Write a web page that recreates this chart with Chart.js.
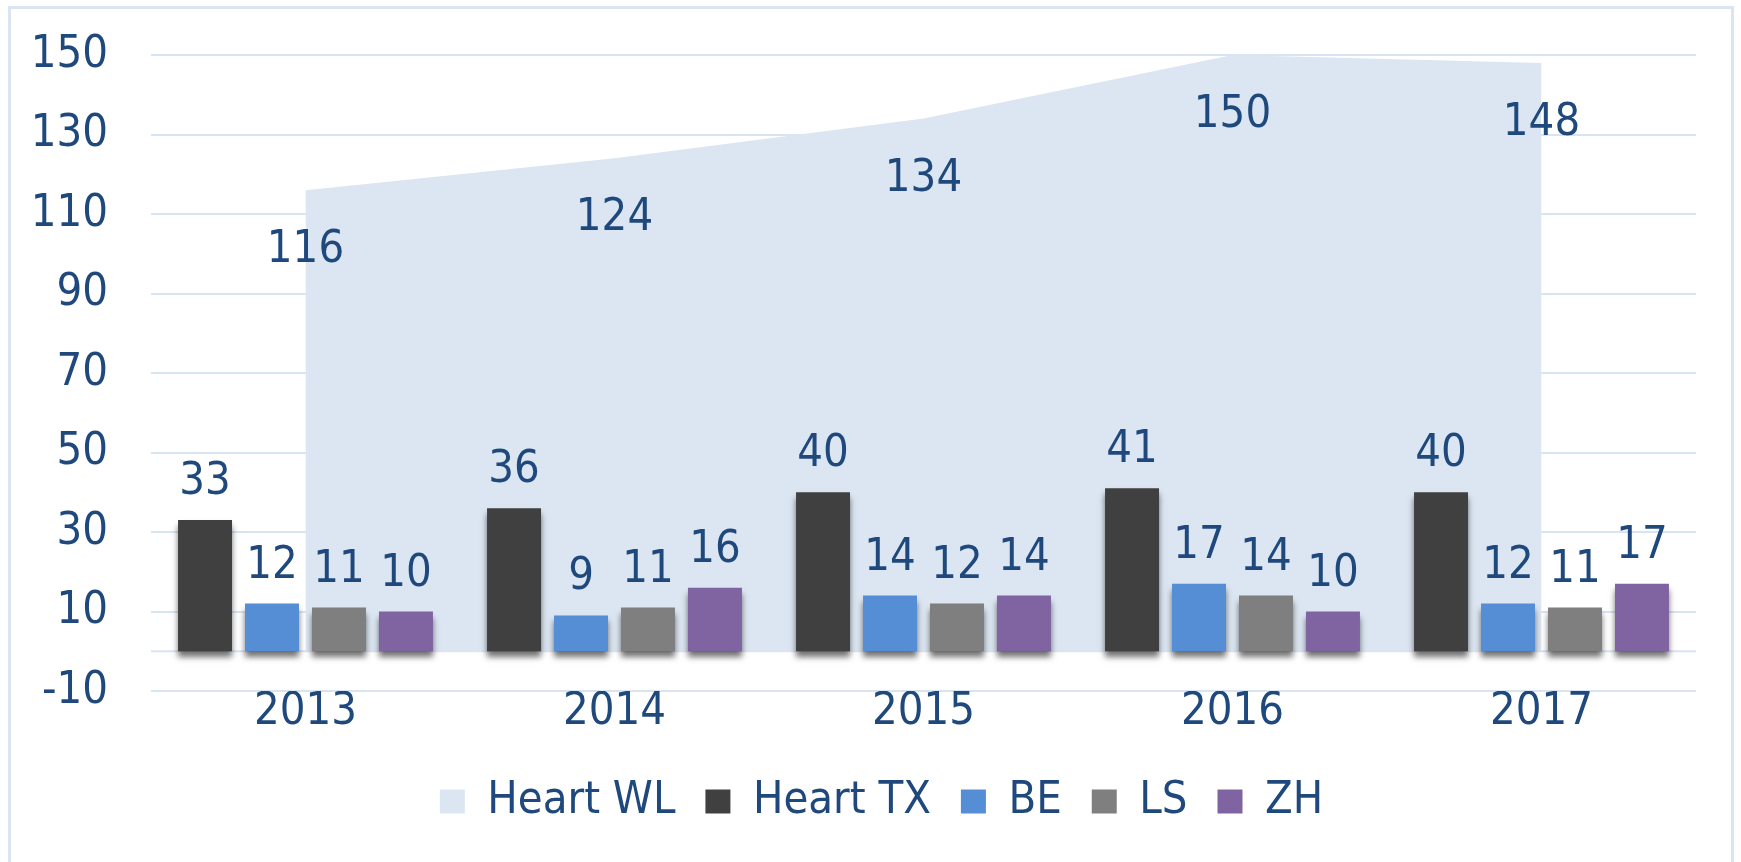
<!DOCTYPE html>
<html>
<head>
<meta charset="utf-8">
<script src="https://cdn.jsdelivr.net/npm/chart.js@4.4.1/dist/chart.umd.min.js"></script>
<style>
  html, body { margin: 0; padding: 0; background: #ffffff; overflow: hidden; }
  #wrap { position: relative; width: 1741px; height: 862px; }
  #frame { position: absolute; left: 8px; top: 6px; width: 1726px; height: 900px; border: 3px solid #dbe5f2; box-sizing: border-box; pointer-events: none; }
  canvas { position: absolute; left: 0; top: 0; }
</style>
</head>
<body>
<div id="wrap">
  <canvas id="c" width="1741" height="862"></canvas>
  <div id="frame"></div>
</div>
<script>
const categories = ['2013', '2014', '2015', '2016', '2017'];
const heartWL = [116, 124, 134, 150, 148];
const heartTX = [33, 36, 40, 41, 40];
const be = [12, 9, 14, 17, 12];
const ls = [11, 11, 12, 14, 11];
const zh = [10, 16, 14, 10, 17];
const yTicks = [-10, 10, 30, 50, 70, 90, 110, 130, 150];

const FONT = "'DejaVu Sans Condensed', 'DejaVu Sans', sans-serif";
const TXT = '#1f497d';
const GRID = '#d9e4f3';

const shadowPlugin = {
  id: 'shadows',
  beforeDatasetDraw(chart, args) {
    const ctx = chart.ctx;
    ctx.save();
    if (args.meta.type === 'line') {
      ctx.shadowColor = 'rgba(0,0,0,0.28)';
      ctx.shadowBlur = 6;
      ctx.shadowOffsetX = 3;
      ctx.shadowOffsetY = 3;
    } else {
      ctx.shadowColor = 'rgba(0,0,0,0.55)';
      ctx.shadowBlur = 6;
      ctx.shadowOffsetX = 0;
      ctx.shadowOffsetY = 6;
    }
  },
  afterDatasetDraw(chart) {
    chart.ctx.restore();
  }
};

const zeroLinePlugin = {
  id: 'zeroLine',
  beforeDatasetsDraw(chart) {
    const { ctx, chartArea, scales } = chart;
    const y = scales.y.getPixelForValue(0);
    ctx.save();
    ctx.strokeStyle = GRID;
    ctx.lineWidth = 2;
    ctx.beginPath();
    ctx.moveTo(chartArea.left, y);
    ctx.lineTo(chartArea.right, y);
    ctx.stroke();
    ctx.restore();
  }
};

const labelPlugin = {
  id: 'valueLabels',
  afterDatasetsDraw(chart) {
    const ctx = chart.ctx;
    ctx.save();
    ctx.font = '45px ' + FONT;
    ctx.fillStyle = TXT;
    ctx.textAlign = 'center';
    ctx.textBaseline = 'alphabetic';
    chart.data.datasets.forEach((ds, i) => {
      const meta = chart.getDatasetMeta(i);
      meta.data.forEach((el, j) => {
        const v = ds.data[j];
        if (meta.type === 'line') {
          ctx.fillText(String(v), el.x, el.y + 72);
        } else {
          ctx.fillText(String(v), el.x, el.y - 26);
        }
      });
    });
    ctx.restore();
  }
};

new Chart(document.getElementById('c'), {
  type: 'bar',
  data: {
    labels: categories,
    datasets: [
      { type: 'line', label: 'Heart WL', data: heartWL, backgroundColor: '#dce6f2', borderColor: '#dce6f2', borderWidth: 0, pointRadius: 0, fill: 'origin', tension: 0, order: 10 },
      { label: 'Heart TX', data: heartTX, backgroundColor: '#404040', borderWidth: 0, order: 1 },
      { label: 'BE', data: be, backgroundColor: '#558ed5', borderWidth: 0, order: 1 },
      { label: 'LS', data: ls, backgroundColor: '#7f7f7f', borderWidth: 0, order: 1 },
      { label: 'ZH', data: zh, backgroundColor: '#8064a2', borderWidth: 0, order: 1 }
    ]
  },
  options: {
    responsive: false,
    animation: false,
    devicePixelRatio: 1,
    categoryPercentage: 0.867,
    barPercentage: 0.806,
    layout: { padding: { left: 22, right: 0, top: 55, bottom: 28 } },
    scales: {
      x: {
        grid: { display: false, drawTicks: false },
        border: { display: false },
        ticks: { color: TXT, font: { family: FONT, size: 45 }, padding: -6 },
        afterFit(s) { s.height = 58; s.paddingRight = 45; }
      },
      y: {
        min: -10,
        max: 150,
        afterBuildTicks(s) { s.ticks = yTicks.map(v => ({ value: v })); },
        grid: { color: GRID, lineWidth: 2, drawTicks: false },
        border: { display: false },
        ticks: { color: TXT, font: { family: FONT, size: 45 }, padding: 43 },
        afterFit(s) { s.width = 129; s.paddingTop = 0; s.paddingBottom = 0; }
      }
    },
    plugins: {
      legend: {
        position: 'bottom',
        labels: {
          color: TXT,
          font: { family: FONT, size: 45 },
          boxWidth: 25,
          boxHeight: 24,
          padding: 30,
          sort: (a, b) => a.datasetIndex - b.datasetIndex
        }
      },
      tooltip: { enabled: false }
    }
  },
  plugins: [shadowPlugin, zeroLinePlugin, labelPlugin]
});
</script>
</body>
</html>
